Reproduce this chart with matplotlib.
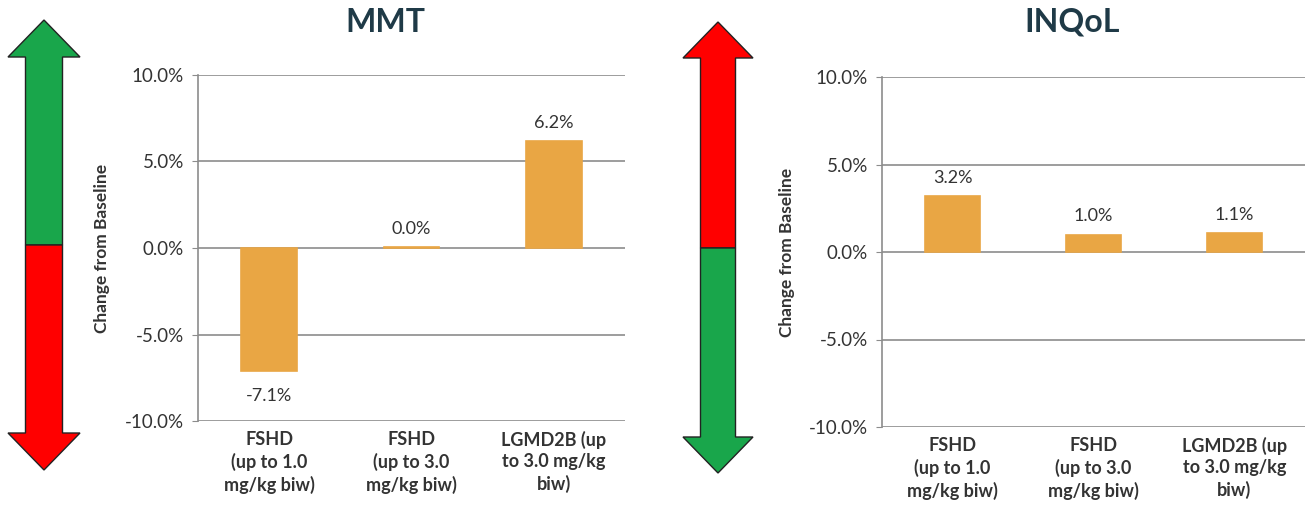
import matplotlib.pyplot as plt
from matplotlib.patches import Polygon

plt.rcParams['font.family'] = ['Lato', 'DejaVu Sans']

categories = ['FSHD\n(up to 1.0\nmg/kg biw)',
              'FSHD\n(up to 3.0\nmg/kg biw)',
              'LGMD2B (up\nto 3.0 mg/kg\nbiw)']
mmt_change = [-7.1, 0.04, 6.2]
inqol_change = [3.2, 1.0, 1.1]
y_ticks = [-10, -5, 0, 5, 10]

W, H = 1311, 514
bar_color = '#E9A644'
grid_color = '#8c8c8c'
text_color = '#333333'
title_color = '#1f3a47'
green = '#19A64B'
red = '#FF0000'

fig = plt.figure(figsize=(W / 100, H / 100), dpi=100)


def px_axes(left, top, right, bottom):
    return fig.add_axes([left / W, 1 - bottom / H, (right - left) / W, (bottom - top) / H])


def bar_panel(ax, values, title, title_x):
    x = range(len(values))
    ax.bar(x, values, width=0.39, color=bar_color, edgecolor=bar_color, lw=1.2, zorder=3)
    ax.set_xlim(-0.5, len(values) - 0.5)
    ax.set_ylim(-10, 10)
    ax.set_yticks(y_ticks)
    ax.set_yticklabels([f'{t:.1f}%' for t in y_ticks])
    ax.set_xticks(list(x))
    ax.set_xticklabels(categories, fontweight='bold', fontsize=13,
                       linespacing=1.32, color=text_color)
    ax.yaxis.grid(True, color=grid_color, lw=1.2, zorder=0)
    for s in ['top', 'right', 'bottom']:
        ax.spines[s].set_visible(False)
    ax.spines['left'].set_color(grid_color)
    ax.spines['left'].set_linewidth(1.2)
    ax.tick_params(axis='y', length=4, color=grid_color, labelsize=13.5,
                   labelcolor=text_color, pad=6)
    ax.tick_params(axis='x', length=0, pad=7)
    ax.set_ylabel('Change from Baseline', fontweight='bold', fontsize=12.5,
                  color=text_color)
    ax.yaxis.set_label_coords(-0.206, 0.5)
    for i, v in enumerate(values):
        off = -18 if v < 0 else 13
        ax.annotate(f'{v:.1f}%', (i, v), xytext=(0, off), textcoords='offset points',
                    ha='center', va='center', fontsize=13, color=text_color)
    fig.text(title_x / W, 1 - 22 / H, title, ha='center', va='center',
             fontsize=23, fontweight='bold', color=title_color)


ax1 = px_axes(198, 75, 625, 421)
bar_panel(ax1, mmt_change, 'MMT', 385)
ax2 = px_axes(882, 77, 1305, 427)
bar_panel(ax2, inqol_change, 'INQoL', 1072)

# double-headed arrows: top half / bottom half in two colours
overlay = fig.add_axes([0, 0, 1, 1], zorder=-1)
overlay.set_xlim(0, W)
overlay.set_ylim(H, 0)
overlay.axis('off')


def double_arrow(cx, tip_top, head_top, mid, head_bot, tip_bot, head_w, shaft_w, c_top, c_bot):
    hw, sw = head_w / 2, shaft_w / 2
    upper = [(cx, tip_top), (cx + hw, head_top), (cx + sw, head_top), (cx + sw, mid),
             (cx - sw, mid), (cx - sw, head_top), (cx - hw, head_top)]
    lower = [(cx, tip_bot), (cx + hw, head_bot), (cx + sw, head_bot), (cx + sw, mid),
             (cx - sw, mid), (cx - sw, head_bot), (cx - hw, head_bot)]
    overlay.add_patch(Polygon(upper, closed=True, fc=c_top, ec='#222222', lw=1))
    overlay.add_patch(Polygon(lower, closed=True, fc=c_bot, ec='#222222', lw=1))


double_arrow(44, 20, 57, 245, 433, 470, 72, 37, green, red)
double_arrow(718, 22, 58, 248, 437, 473, 70, 35, red, green)

fig.savefig('out.png', dpi=100, facecolor='white')
